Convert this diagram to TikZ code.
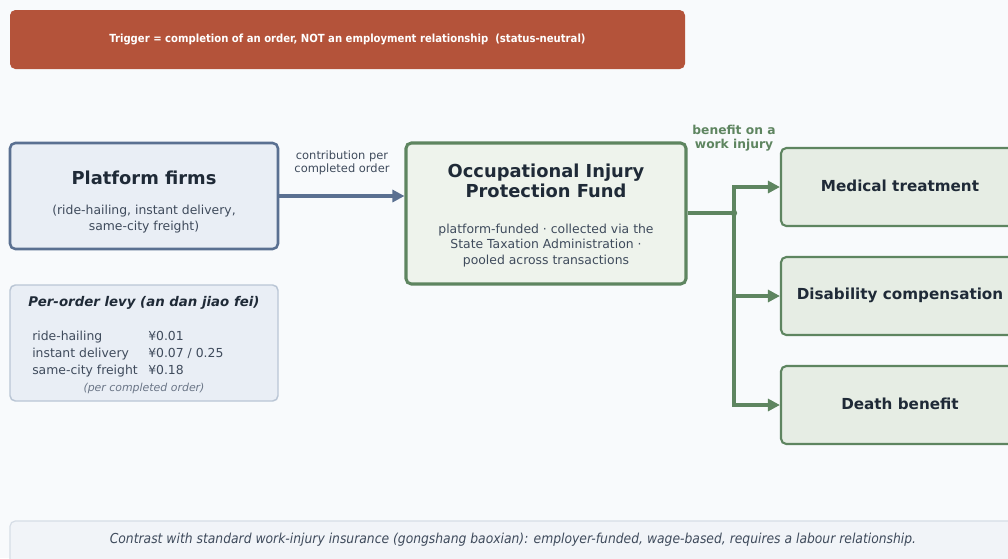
\documentclass[tikz,border=0pt]{standalone}
\usepackage{fontspec}
\setmainfont{DejaVu Sans}
\newfontfamily\condfont{DejaVu Sans Condensed}
\usetikzlibrary{arrows.meta}
\definecolor{bg}{HTML}{F8FAFC}
\definecolor{rust}{HTML}{B4533A}
\definecolor{slate}{HTML}{5A7091}
\definecolor{slatefill}{HTML}{E9EEF5}
\definecolor{levyline}{HTML}{BAC6D5}
\definecolor{leaf}{HTML}{5E8560}
\definecolor{fundfill}{HTML}{EEF3EC}
\definecolor{benfill}{HTML}{E6EDE4}
\definecolor{ink}{HTML}{1F2A37}
\definecolor{subink}{HTML}{3F4B5C}
\definecolor{mute}{HTML}{6B7687}
\definecolor{footfill}{HTML}{F1F4F8}
\definecolor{footline}{HTML}{D6DDE6}
\tikzset{
  x=0.75pt, y=-0.75pt,
  box/.style={rounded corners=4pt, inner sep=0pt},
  title/.style={font=\bfseries\fontsize{13.4}{15}\selectfont, text=ink, align=center},
  subtxt/.style={font=\fontsize{9.3}{11.4}\selectfont, text=subink, align=center},
  rowtxt/.style={font=\fontsize{9.3}{11.2}\selectfont, text=subink, inner sep=0pt, anchor=base west},
  bentxt/.style={font=\bfseries\fontsize{11.4}{13}\selectfont, text=ink},
  flow/.style={line width=2.3pt, line join=miter, -{Triangle[length=9pt,width=9pt]}},
}
\begin{document}
\begin{tikzpicture}
\useasboundingbox[fill=bg] (0,0) rectangle (1008,558);

% trigger banner
\node[box, fill=rust, minimum width=506.25pt, minimum height=44.25pt] (banner) at (347.5,39.5) {};
\node[font=\condfont\bfseries\fontsize{8.4}{10}\selectfont, text=white] (bannertxt) at (347.5,39.5)
  {Trigger = completion of an order, NOT an employment relationship\ \ (status-neutral)};

% platform firms
\node[box, draw=slate, line width=1.9pt, fill=slatefill, minimum width=201pt, minimum height=79.5pt] (plat) at (144,196) {};
\node[title] (plattitle) at (144,178) {Platform firms};
\node[subtxt] (platsub) at (144,219) {(ride-hailing, instant delivery,\\same-city freight)};

% per-order levy
\node[box, draw=levyline, line width=1.1pt, fill=slatefill, minimum width=201pt, minimum height=87pt] (levy) at (144,343) {};
\node[font=\bfseries\itshape\fontsize{10}{12}\selectfont, text=ink] (levytitle) at (144,302.5) {Per-order levy (an dan jiao fei)};
\node[rowtxt] (r1) at (32,340) {ride-hailing};
\node[rowtxt] (r2) at (32,357) {instant delivery};
\node[rowtxt] (r3) at (32,374) {same-city freight};
\node[rowtxt] (v1) at (148,340) {¥0.01};
\node[rowtxt] (v2) at (148,357) {¥0.07 / 0.25};
\node[rowtxt] (v3) at (148,374) {¥0.18};
\node[font=\itshape\fontsize{8.2}{10}\selectfont, text=mute] (levynote) at (144,388) {(per completed order)};

% fund
\node[box, draw=leaf, line width=2.3pt, fill=fundfill, minimum width=210pt, minimum height=105.75pt] (fund) at (546,213.5) {};
\node[title] (fundtitle) at (546,181) {Occupational Injury\\Protection Fund};
\node[subtxt, font=\fontsize{9.3}{11.6}\selectfont] (fundsub) at (546,245.5) {platform-funded · collected via the\\State Taxation Administration ·\\pooled across transactions};

% benefits
\node[box, draw=leaf, line width=1.6pt, fill=benfill, minimum width=178.5pt, minimum height=58.5pt] (med) at (900,187) {};
\node[box, draw=leaf, line width=1.6pt, fill=benfill, minimum width=178.5pt, minimum height=58.5pt] (dis) at (900,296) {};
\node[box, draw=leaf, line width=1.6pt, fill=benfill, minimum width=178.5pt, minimum height=58.5pt] (death) at (900,405) {};
\node[bentxt] (medtxt) at (900,186) {Medical treatment};
\node[bentxt] (distxt) at (900,295) {Disability compensation};
\node[bentxt] (deathtxt) at (900,404) {Death benefit};

% contribution flow
\draw[flow, draw=slate] (plat.east) -- (fund.west |- plat.east);
\node[font=\fontsize{8.6}{9.8}\selectfont, text=subink, align=center] (contrib) at (342,163) {contribution per\\completed order};

% benefit distribution: trunk from the fund, elbows to each benefit
\coordinate (hub) at (734,213);
\draw[line width=2.3pt, leaf] (fund.east |- hub) -- (hub);
\draw[flow, draw=leaf] (hub) -- (hub |- med.west) -- (med.west);
\draw[flow, draw=leaf] (hub) -- (hub |- dis.west) -- (dis.west);
\draw[flow, draw=leaf] (hub) -- (hub |- death.west) -- (death.west);
\fill[leaf] (hub) circle (2.4pt);
\node[font=\bfseries\fontsize{9.2}{10.4}\selectfont, text=leaf, align=center] (benlabel) at (734,138) {benefit on a\\work injury};

% footer contrast note
\node[box, draw=footline, line width=0.9pt, fill=footfill, minimum width=754.5pt, minimum height=36pt] (foot) at (513,545) {};
\node[font=\condfont\itshape\fontsize{10.3}{12}\selectfont, text=subink] (foottxt) at (513,540)
  {Contrast with standard work-injury insurance (gongshang baoxian): employer-funded, wage-based, requires a labour relationship.};
\end{tikzpicture}
\end{document}
